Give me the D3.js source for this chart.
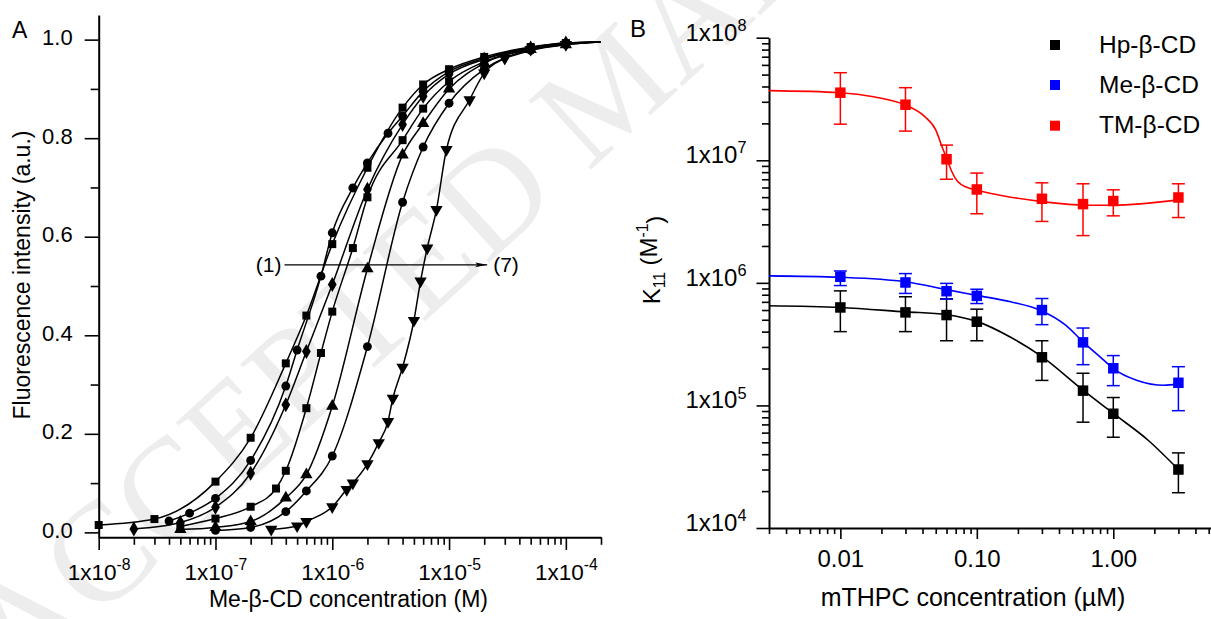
<!DOCTYPE html>
<html><head><meta charset="utf-8">
<script src="https://cdn.jsdelivr.net/npm/d3@7"></script>
<style>
body{margin:0;background:#fff}
svg{display:block}
text{font-family:"Liberation Sans", Arial, sans-serif; fill:#000}
</style>
</head><body>
<svg id="chart" width="1211" height="619"></svg>
<script>
// ---------- Panel A data: Me-β-CD concentration (M) vs fluorescence intensity ----------
const curve1 = [[1e-8,0.015],[3e-8,0.027],[1e-7,0.103],[2e-7,0.192],[4e-7,0.343],[6e-7,0.44],[1e-6,0.585],[2e-6,0.74],[4e-6,0.862],[6e-6,0.909],[1e-5,0.94],[2e-5,0.965],[5e-5,0.985],[1e-4,0.993]];
const curve2 = [[4e-8,0.023],[6e-8,0.039],[1e-7,0.069],[2e-7,0.146],[4e-7,0.297],[5e-7,0.37],[8e-7,0.52],[1e-6,0.608],[1.5e-6,0.699],[2e-6,0.75],[3e-6,0.81],[4e-6,0.845],[6e-6,0.895],[1e-5,0.935],[2e-5,0.962],[5e-5,0.984],[1e-4,0.992]];
const curve3 = [[2e-8,0.007],[5e-8,0.02],[1e-7,0.051],[2e-7,0.12],[4e-7,0.259],[6e-7,0.367],[1e-6,0.503],[2e-6,0.696],[4e-6,0.828],[6e-6,0.885],[1e-5,0.93],[2e-5,0.96],[5e-5,0.983],[1e-4,0.993]];
const curve4 = [[5e-8,0.012],[1e-7,0.028],[2e-7,0.052],[3.3e-7,0.089],[4e-7,0.125],[6e-7,0.252],[8e-7,0.364],[1e-6,0.448],[1.5e-6,0.577],[2e-6,0.68],[4e-6,0.796],[6e-6,0.86],[1e-5,0.915],[2e-5,0.955],[5e-5,0.982],[1e-4,0.992]];
const curve5 = [[5e-8,0.006],[1e-7,0.01],[2e-7,0.022],[4e-7,0.07],[6e-7,0.117],[1e-6,0.256],[2e-6,0.535],[4e-6,0.766],[6e-6,0.83],[1e-5,0.9],[2e-5,0.952],[5e-5,0.98],[1e-4,0.99]];
const curve6 = [[1e-7,0.004],[2e-7,0.01],[4e-7,0.042],[6e-7,0.084],[1e-6,0.155],[2e-6,0.377],[4e-6,0.67],[6e-6,0.782],[1e-5,0.871],[2e-5,0.94],[5e-5,0.978],[1e-4,0.99]];
const curve7 = [[3e-7,0.006],[5e-7,0.013],[6e-7,0.022],[1e-6,0.052],[1.33e-6,0.087],[1.5e-6,0.10],[2e-6,0.139],[2.5e-6,0.182],[3e-6,0.225],[3.3e-6,0.272],[4e-6,0.335],[5e-6,0.43],[5.7e-6,0.51],[6.5e-6,0.577],[7.8e-6,0.655],[9.5e-6,0.777],[1.5e-5,0.878],[2e-5,0.932],[3e-5,0.962],[5e-5,0.98],[1e-4,0.99]];
const curvesA = [curve1, curve2, curve3, curve4, curve5, curve6, curve7];
const markersA = ["square","circle","diamond","square","triangle","circle","triangleDown"];
const fitEndA = [2e-4, 0.995];            // where the fitted lines leave the plot
const xTicksA = [1e-8,1e-7,1e-6,1e-5,1e-4];
const xTickExpA = ["-8","-7","-6","-5","-4"];
const yTicksA = [0,0.2,0.4,0.6,0.8,1.0];
const yMinorA = [0.1,0.3,0.5,0.7,0.9];
const arrowA = [[3.9e-7,0.543],[2.12e-5,0.543]];

// ---------- Panel B data: mTHPC concentration (µM) vs K11 ----------
const mthpc = [0.01,0.03,0.06,0.1,0.3,0.6,1.0,3.0];
const hpK   = [6.3e5,5.74e5,5.46e5,4.82e5,2.47e5,1.32e5,8.55e4,3.0e4];
const hpHi  = [8.6e5,7.7e5,7.4e5,6.1e5,3.37e5,1.83e5,1.16e5,4.1e4];
const hpLo  = [4.0e5,4.0e5,3.37e5,3.37e5,1.6e5,7.3e4,5.5e4,1.94e4];
const meK   = [1.12e6,1.007e6,8.55e5,7.83e5,6.0e5,3.27e5,2.01e5,1.53e5];
const meHi  = [1.25e6,1.19e6,9.9e5,8.87e5,7.45e5,4.28e5,2.55e5,2.07e5];
const meLo  = [9.5e5,8.2e5,7.36e5,6.78e5,4.56e5,2.15e5,1.45e5,9.06e4];
const tmK   = [3.56e7,2.84e7,1.02e7,5.78e6,4.85e6,4.39e6,4.65e6,4.97e6];
const tmHi  = [5.18e7,3.91e7,1.33e7,7.86e6,6.55e6,6.43e6,5.74e6,6.43e6];
const tmLo  = [1.97e7,1.73e7,7.0e6,3.66e6,3.17e6,2.43e6,3.52e6,3.41e6];
const hpFit = [[0.003,6.5e5],[0.01,6.3e5],[0.03,5.8e5],[0.06,5.5e5],[0.1,4.85e5],[0.177,3.6e5],[0.3,2.5e5],[0.6,1.33e5],[1.0,8.6e4],[1.8,5.2e4],[3.0,3.0e4]];
const meFit = [[0.003,1.14e6],[0.01,1.11e6],[0.03,1.02e6],[0.06,8.8e5],[0.1,7.9e5],[0.177,7.0e5],[0.3,5.9e5],[0.45,4.5e5],[0.6,3.3e5],[0.83,2.4e5],[1.0,2.0e5],[1.5,1.6e5],[2.34,1.46e5],[3.0,1.5e5]];
const tmFit = [[0.003,3.7e7],[0.01,3.56e7],[0.0175,3.3e7],[0.03,2.82e7],[0.041,2.3e7],[0.05,1.77e7],[0.0556,1.29e7],[0.0605,1.02e7],[0.0655,8.1e6],[0.0724,6.7e6],[0.0853,6.0e6],[0.1,5.7e6],[0.177,5.0e6],[0.3,4.6e6],[0.62,4.3e6],[1.0,4.3e6],[3.0,4.75e6]];
const seriesNamesB = ["Hp-β-CD","Me-β-CD","TM-β-CD"];
const seriesColorsB = ["#000000","#0000ff","#ff0000"];
const xTicksB = [0.01,0.1,1];
const xTickLabelsB = ["0.01","0.10","1.00"];
const yTicksB = [1e4,1e5,1e6,1e7,1e8];
const yTickExpB = ["4","5","6","7","8"];

const svg = d3.select("#chart");

// watermark
svg.append("text")
  .attr("transform","translate(20,691) rotate(-42.4)")
  .style("font-family","'Liberation Serif','DejaVu Serif',serif")
  .attr("font-size",142).style("fill","#ededed")
  .text("ACCEPTED MANUSCRIPT");

// ================= Panel A =================
const xA = d3.scaleLog().domain([1e-8, 2e-4]).range([98.7, 601]);
const yA = d3.scaleLinear().domain([-0.01, 1.05]).range([537.3, 15]);
const gA = svg.append("g");

function styleAxis(g, fs){
  g.select(".domain").attr("stroke","#000").attr("stroke-width",2);
  g.selectAll(".tick line").attr("stroke","#000").attr("stroke-width",1.6);
  g.selectAll("text").attr("font-size",fs).attr("font-family",null);
}

// minor ticks
gA.append("g").attr("transform","translate(0,537.3)")
  .call(d3.axisBottom(xA).tickValues(xA.ticks().filter(v=>Math.abs(Math.log10(v)-Math.round(Math.log10(v)))>1e-6)).tickSize(7.5).tickFormat(""))
  .call(g=>{g.select(".domain").remove(); g.selectAll(".tick line").attr("stroke-width",1.6);});
gA.append("g").attr("transform","translate(98.7,0)")
  .call(d3.axisLeft(yA).tickValues(yMinorA).tickSize(8).tickFormat(""))
  .call(g=>{g.select(".domain").remove(); g.selectAll(".tick line").attr("stroke-width",1.6);});

const axXA = gA.append("g").attr("transform","translate(0,537.3)")
  .call(d3.axisBottom(xA).tickValues(xTicksA).tickSize(12.7).tickPadding(14).tickSizeOuter(0));
styleAxis(axXA, 22.5);
axXA.selectAll(".tick text").each(function(d,i){
  const t = d3.select(this); t.text("1x10");
  t.append("tspan").attr("dy","-0.62em").attr("font-size","0.7em").text(xTickExpA[i]);
});
const axYA = gA.append("g").attr("transform","translate(98.7,0)")
  .call(d3.axisLeft(yA).tickValues(yTicksA).tickSize(14).tickPadding(12).tickSizeOuter(0).tickFormat(d3.format(".1f")));
styleAxis(axYA, 22);
axYA.selectAll(".tick text").attr("dy","0.22em");

// fitted lines (smoothed through the measured points)
const lineA = d3.line().x(d=>xA(d[0])).y(d=>yA(d[1])).curve(d3.curveMonotoneX);
curvesA.forEach(c=>{
  gA.append("path").datum(c.concat([fitEndA]))
    .attr("d",lineA).attr("fill","none").attr("stroke","#000").attr("stroke-width",1.5);
});
const symTypes = {square:[d3.symbolSquare,64,0], circle:[d3.symbolCircle,62,0], diamond:[d3.symbolDiamond,66,0], triangle:[d3.symbolTriangle,66,0], triangleDown:[d3.symbolTriangle,66,180]};
curvesA.forEach((c,i)=>{
  const st = symTypes[markersA[i]];
  gA.append("g").selectAll("path").data(c).join("path")
    .attr("transform",d=>`translate(${xA(d[0])},${yA(d[1])}) rotate(${st[2]})`)
    .attr("d",d3.symbol().type(st[0]).size(st[1])).attr("fill","#000");
});

// arrow (1) -> (7)
svg.append("defs").append("marker").attr("id","ah").attr("viewBox","0 0 20 10")
  .attr("refX",20).attr("refY",5).attr("markerWidth",20).attr("markerHeight",6)
  .attr("markerUnits","userSpaceOnUse").attr("orient","auto")
  .append("path").attr("d","M0,1 L20,5 L0,9 L4,5 Z").attr("fill","#000");
gA.append("line").attr("x1",xA(arrowA[0][0])).attr("x2",xA(arrowA[1][0]))
  .attr("y1",yA(arrowA[0][1])).attr("y2",yA(arrowA[1][1]))
  .attr("stroke","#000").attr("stroke-width",1.2).attr("marker-end","url(#ah)");
gA.append("text").attr("x",xA(arrowA[0][0])-3).attr("y",yA(arrowA[0][1])+7).attr("text-anchor","end").attr("font-size",21).text("(1)");
gA.append("text").attr("x",xA(arrowA[1][0])+6).attr("y",yA(arrowA[1][1])+7).attr("font-size",21).text("(7)");

// titles
gA.append("text").attr("x",12).attr("y",38).attr("font-size",23).text("A");
gA.append("text").attr("x",348.5).attr("y",607).attr("text-anchor","middle").attr("font-size",23).text("Me-β-CD concentration (M)");
gA.append("text").attr("transform","translate(30,275) rotate(-90)").attr("text-anchor","middle").attr("font-size",23).text("Fluorescence intensity (a.u.)");

// ================= Panel B =================
const xB = d3.scaleLog().domain([0.003, 5.2]).range([769, 1211]);
const yB = d3.scaleLog().domain([1e4, 1e8]).range([528, 37.7]);
const gB = svg.append("g");

gB.append("g").attr("transform","translate(0,528)")
  .call(d3.axisBottom(xB).tickValues(xB.ticks().filter(v=>Math.abs(Math.log10(v)-Math.round(Math.log10(v)))>1e-6)).tickSize(6).tickFormat(""))
  .call(g=>{g.select(".domain").remove(); g.selectAll(".tick line").attr("stroke-width",1.6);});
gB.append("g").attr("transform","translate(769,0)")
  .call(d3.axisLeft(yB).tickValues(yB.ticks().filter(v=>Math.abs(Math.log10(v)-Math.round(Math.log10(v)))>1e-6)).tickSize(7).tickFormat(""))
  .call(g=>{g.select(".domain").remove(); g.selectAll(".tick line").attr("stroke-width",1.6);});

const axXB = gB.append("g").attr("transform","translate(0,528)")
  .call(d3.axisBottom(xB).tickValues(xTicksB).tickSize(11).tickPadding(11).tickSizeOuter(0).tickFormat((d,i)=>xTickLabelsB[i]));
styleAxis(axXB, 24);
const axYB = gB.append("g").attr("transform","translate(769,0)")
  .call(d3.axisLeft(yB).tickValues(yTicksB).tickSize(12.5).tickPadding(10).tickSizeOuter(0));
styleAxis(axYB, 24);
axYB.selectAll(".tick text").attr("dy","0.1em").each(function(d,i){
  const t = d3.select(this); t.text("1x10");
  t.append("tspan").attr("dy","-0.6em").attr("font-size","0.68em").text(yTickExpB[i]);
});

const lineB = d3.line().x(d=>xB(d[0])).y(d=>yB(d[1])).curve(d3.curveMonotoneX);
const seriesB = [
  {k:hpK, hi:hpHi, lo:hpLo, fit:hpFit},
  {k:meK, hi:meHi, lo:meLo, fit:meFit},
  {k:tmK, hi:tmHi, lo:tmLo, fit:tmFit}
];
seriesB.forEach((s,si)=>{
  const col = seriesColorsB[si];
  gB.append("path").datum(s.fit).attr("d",lineB).attr("fill","none").attr("stroke",col).attr("stroke-width",1.6);
  const eg = gB.append("g").attr("stroke",col).attr("stroke-width",1.5);
  mthpc.forEach((c,i)=>{
    const x = xB(c);
    eg.append("line").attr("x1",x).attr("x2",x).attr("y1",yB(s.hi[i])).attr("y2",yB(s.lo[i]));
    eg.append("line").attr("x1",x-6.5).attr("x2",x+6.5).attr("y1",yB(s.hi[i])).attr("y2",yB(s.hi[i]));
    eg.append("line").attr("x1",x-6.5).attr("x2",x+6.5).attr("y1",yB(s.lo[i])).attr("y2",yB(s.lo[i]));
  });
  gB.append("g").selectAll("rect").data(mthpc).join("rect")
    .attr("x",d=>xB(d)-5.25).attr("y",(d,i)=>yB(s.k[i])-5.25).attr("width",10.5).attr("height",10.5).attr("fill",col);
});

// legend
const legY = [45,85,125.7];
seriesNamesB.forEach((n,i)=>{
  gB.append("rect").attr("x",1050).attr("y",legY[i]-5).attr("width",10).attr("height",10).attr("fill",seriesColorsB[i]);
  gB.append("text").attr("x",1099).attr("y",legY[i]+7.5).attr("font-size",24.5).text(n);
});

// titles
gB.append("text").attr("x",630).attr("y",36.7).attr("font-size",24).text("B");
gB.append("text").attr("x",973).attr("y",606).attr("text-anchor","middle").attr("font-size",25).text("mTHPC concentration (µM)");
const yt = gB.append("text").attr("transform","translate(660,260) rotate(-90)").attr("text-anchor","middle").attr("font-size",24);
yt.append("tspan").text("K");
yt.append("tspan").attr("dy","0.3em").attr("font-size","0.65em").text("11");
yt.append("tspan").attr("dy","-0.3em").text(" (M");
yt.append("tspan").attr("dy","-0.6em").attr("font-size","0.65em").text("-1");
yt.append("tspan").attr("dy","0.6em").text(")");
</script>
</body></html>
